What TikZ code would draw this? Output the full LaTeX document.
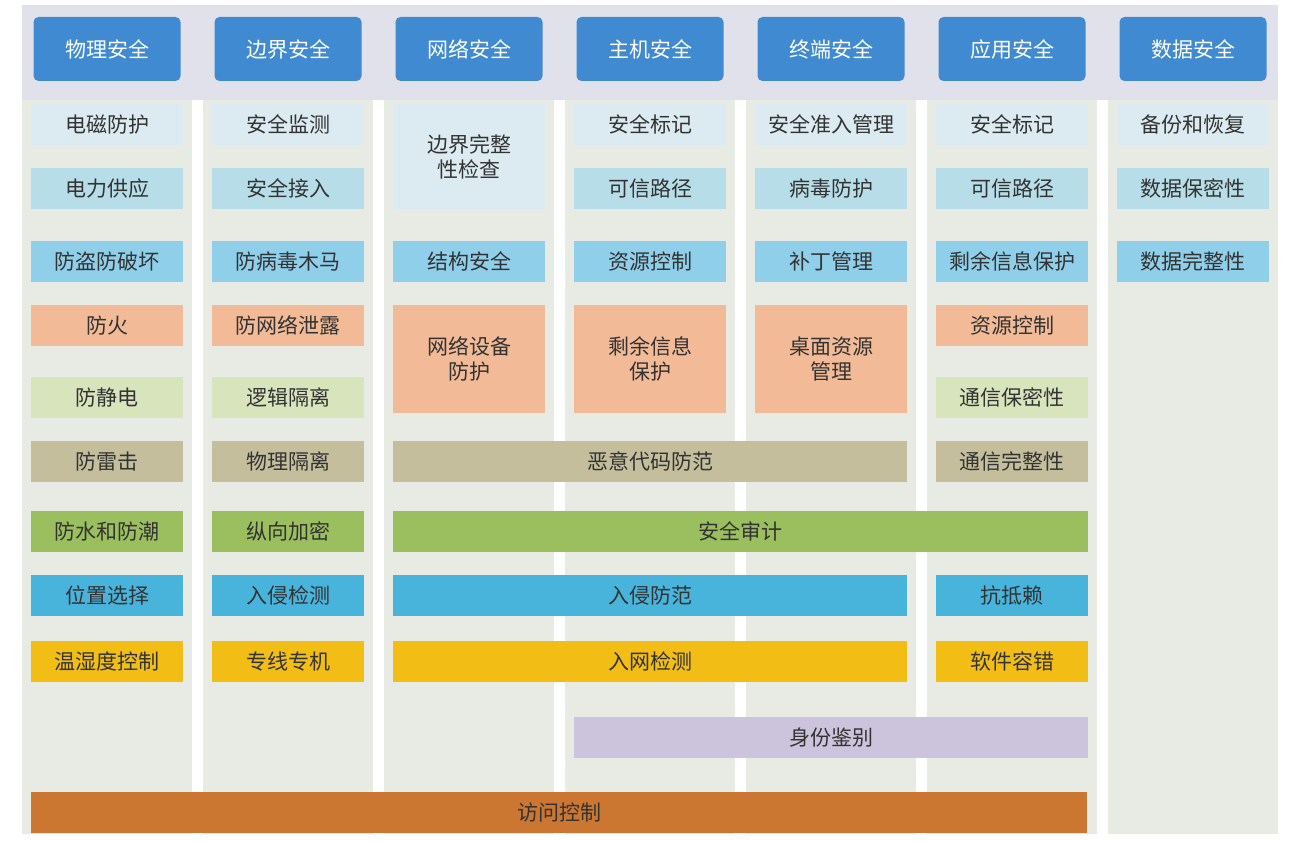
\documentclass[tikz,border=0pt]{standalone}
\usepackage{fontspec}
\setmainfont{Noto Sans CJK SC}
\definecolor{bandgray}{HTML}{E1E1EB}
\definecolor{colgray}{HTML}{E8EBE4}
\definecolor{headblue}{HTML}{408AD2}
\definecolor{rowa}{HTML}{DBEBF1}
\definecolor{rowb}{HTML}{B7DEE8}
\definecolor{rowc}{HTML}{90CFEA}
\definecolor{rowd}{HTML}{F2BA96}
\definecolor{rowe}{HTML}{D8E4BC}
\definecolor{rowf}{HTML}{C4BE9D}
\definecolor{rowg}{HTML}{9BBF5E}
\definecolor{rowh}{HTML}{48B4DB}
\definecolor{rowi}{HTML}{F2BE16}
\definecolor{rowj}{HTML}{CCC3DC}
\definecolor{rowk}{HTML}{CB7731}
\begin{document}
\begin{tikzpicture}[x=1pt, y=-1pt]
	\tikzstyle{cell} = [minimum width=152pt, minimum height=41pt, inner sep=0pt, align=center, text=black!80, font=\fontsize{21}{25}\selectfont]
	\tikzstyle{head} = [cell, fill=headblue, text=white, minimum width=147pt, minimum height=64pt, rounded corners=5pt]
	\useasboundingbox[fill=white] (0,0) rectangle (1300,840);
	% background
	\fill[bandgray] (22,5) rectangle (1278,100);
	\foreach \x in {22,203,384,565,746,927,1108}
		\fill[colgray] (\x,100) rectangle (\x+170,834);
	% headers
	\node[head](h1) at (107,49) {物理安全};
	\node[head](h2) at (288,49) {边界安全};
	\node[head](h3) at (469,49) {网络安全};
	\node[head](h4) at (650,49) {主机安全};
	\node[head](h5) at (831,49) {终端安全};
	\node[head](h6) at (1012,49) {应用安全};
	\node[head](h7) at (1193,49) {数据安全};
	% physical
	\node[cell, fill=rowa](A1) at (107,124.5) {电磁防护};
	\node[cell, fill=rowb](A2) at (107,188.5) {电力供应};
	\node[cell, fill=rowc](A3) at (107,261.5) {防盗防破坏};
	\node[cell, fill=rowd](A4) at (107,325.5) {防火};
	\node[cell, fill=rowe](A5) at (107,397.5) {防静电};
	\node[cell, fill=rowf](A6) at (107,461.5) {防雷击};
	\node[cell, fill=rowg](A7) at (107,531.5) {防水和防潮};
	\node[cell, fill=rowh](A8) at (107,595.5) {位置选择};
	\node[cell, fill=rowi](A9) at (107,661.5) {温湿度控制};
	% boundary
	\node[cell, fill=rowa](B1) at (288,124.5) {安全监测};
	\node[cell, fill=rowb](B2) at (288,188.5) {安全接入};
	\node[cell, fill=rowc](B3) at (288,261.5) {防病毒木马};
	\node[cell, fill=rowd](B4) at (288,325.5) {防网络泄露};
	\node[cell, fill=rowe](B5) at (288,397.5) {逻辑隔离};
	\node[cell, fill=rowf](B6) at (288,461.5) {物理隔离};
	\node[cell, fill=rowg](B7) at (288,531.5) {纵向加密};
	\node[cell, fill=rowh](B8) at (288,595.5) {入侵检测};
	\node[cell, fill=rowi](B9) at (288,661.5) {专线专机};
	% network
	\node[cell, fill=rowa, minimum height=105pt](C1) at (469,156.5) {边界完整\\性检查};
	\node[cell, fill=rowc](C3) at (469,261.5) {结构安全};
	\node[cell, fill=rowd, minimum height=108pt](C4) at (469,359) {网络设备\\防护};
	% host
	\node[cell, fill=rowa](D1) at (650,124.5) {安全标记};
	\node[cell, fill=rowb](D2) at (650,188.5) {可信路径};
	\node[cell, fill=rowc](D3) at (650,261.5) {资源控制};
	\node[cell, fill=rowd, minimum height=108pt](D4) at (650,359) {剩余信息\\保护};
	% terminal
	\node[cell, fill=rowa](E1) at (831,124.5) {安全准入管理};
	\node[cell, fill=rowb](E2) at (831,188.5) {病毒防护};
	\node[cell, fill=rowc](E3) at (831,261.5) {补丁管理};
	\node[cell, fill=rowd, minimum height=108pt](E4) at (831,359) {桌面资源\\管理};
	% application
	\node[cell, fill=rowa](F1) at (1012,124.5) {安全标记};
	\node[cell, fill=rowb](F2) at (1012,188.5) {可信路径};
	\node[cell, fill=rowc](F3) at (1012,261.5) {剩余信息保护};
	\node[cell, fill=rowd](F4) at (1012,325.5) {资源控制};
	\node[cell, fill=rowe](F5) at (1012,397.5) {通信保密性};
	\node[cell, fill=rowf](F6) at (1012,461.5) {通信完整性};
	\node[cell, fill=rowh](F8) at (1012,595.5) {抗抵赖};
	\node[cell, fill=rowi](F9) at (1012,661.5) {软件容错};
	% data
	\node[cell, fill=rowa](G1) at (1193,124.5) {备份和恢复};
	\node[cell, fill=rowb](G2) at (1193,188.5) {数据保密性};
	\node[cell, fill=rowc](G3) at (1193,261.5) {数据完整性};
	% spanning rows
	\node[cell, fill=rowf, minimum width=514pt](S6) at (650,461.5) {恶意代码防范};
	\node[cell, fill=rowg, minimum width=695pt](S7) at (740.5,531.5) {安全审计};
	\node[cell, fill=rowh, minimum width=514pt](S8) at (650,595.5) {入侵防范};
	\node[cell, fill=rowi, minimum width=514pt](S9) at (650,661.5) {入网检测};
	\node[cell, fill=rowj, minimum width=514pt](S10) at (831,737.5) {身份鉴别};
	\node[cell, fill=rowk, minimum width=1056pt](S11) at (559,812.5) {访问控制};
\end{tikzpicture}
\end{document}
